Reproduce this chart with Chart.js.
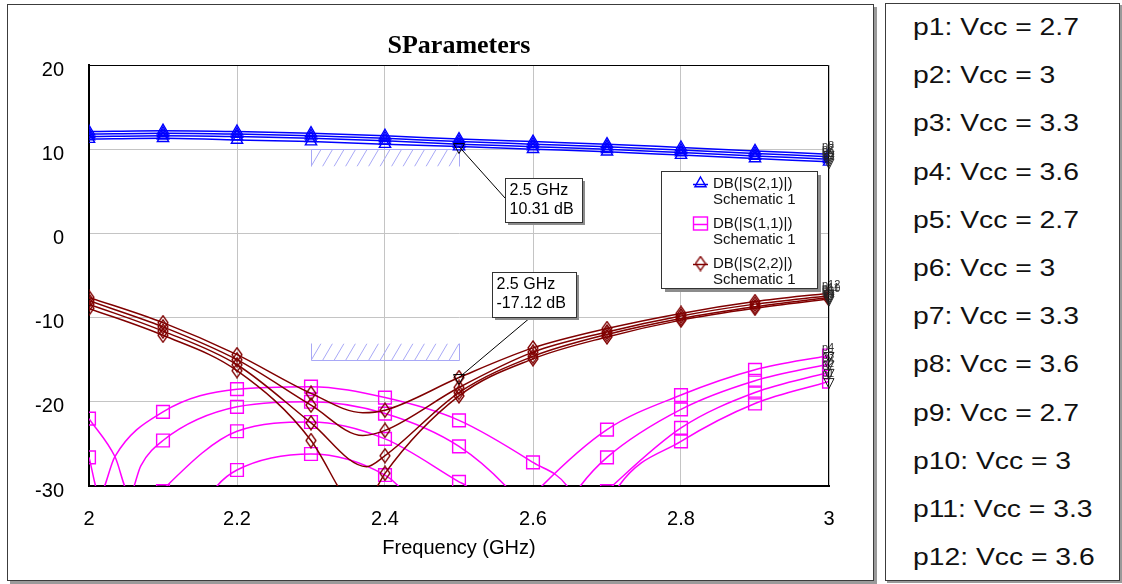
<!DOCTYPE html>
<html>
<head>
<meta charset="utf-8">
<title>SParameters</title>
<script src="https://cdn.jsdelivr.net/npm/chart.js@4.4.1/dist/chart.umd.min.js"></script>
<style>
body { margin: 0; width: 1122px; height: 584px; overflow: hidden; background: #fff; font-family: "Liberation Sans", Arial, sans-serif; }
#plot-frame { position: absolute; left: 7px; top: 4px; width: 865px; height: 575px; border: 1px solid #3c3c3c; box-shadow: 3px 3px 0 #9a9a9a; }
#vcc-frame { position: absolute; left: 885px; top: 3px; width: 233px; height: 576px; border: 1px solid #3c3c3c; box-shadow: 2px 2px 0 #9a9a9a; }
.vcc { position: absolute; left: 27px; height: 28px; line-height: 28px; font-size: 23px; white-space: nowrap; transform: scaleX(1.23); transform-origin: 0 50%; color: #111; }
#chart { position: absolute; left: 0; top: 0; }
</style>
</head>
<body>
<div id="plot-frame"></div>
<div id="vcc-frame"></div>
<canvas id="chart" width="1122" height="584"></canvas>
<script>
// frequencies where the simulator puts a marker symbol (GHz)
const markFreq = [2.0, 2.1, 2.2, 2.3, 2.4, 2.5, 2.6, 2.7, 2.8, 2.9, 3.0];

// DB(|S(2,1)|) at markFreq, traces p5..p8
const s21Db = [
   [11.2, 11.3, 11.1, 10.9, 10.6, 10.31, 10.0, 9.7, 9.3, 8.9, 8.5],
   [11.5, 11.6, 11.5, 11.3, 11.0, 10.6, 10.3, 10.0, 9.6, 9.2, 8.8],
   [11.8, 11.9, 11.8, 11.6, 11.3, 10.9, 10.6, 10.3, 9.9, 9.5, 9.1],
   [12.1, 12.2, 12.1, 11.9, 11.6, 11.2, 10.9, 10.6, 10.2, 9.8, 9.4]
];

// DB(|S(1,1)|) at markFreq, traces p1..p4 (values under -30 are off the plot)
const s11Db = [
   [-26.6, -21.2, -18.5, -18.2, -19.5, -22.2, -27.2, -33.0, -24.7, -20.2, -17.6],
   [-22.0, -24.6, -20.6, -20.0, -21.4, -25.3, -34.0, -30.6, -23.1, -18.9, -16.5],
   [-33.0, -30.6, -23.5, -22.4, -24.4, -29.5, -39.0, -26.6, -20.9, -17.5, -15.5],
   [-34.0, -40.0, -28.1, -26.2, -28.7, -40.0, -31.2, -23.3, -19.2, -16.2, -14.5]
];
// extra unmarked samples near the nulls [GHz, dB]
const s11Extra = [
   [[2.014, -31], [2.035, -26.5], [2.646, -30], [2.68, -36], [2.716, -30]],
   [[2.035, -26.5], [2.055, -31], [2.07, -27.6], [2.563, -30], [2.635, -38], [2.707, -30]],
   [[2.09, -37], [2.105, -30], [2.51, -30], [2.59, -40], [2.664, -30]],
   [[2.173, -30], [2.418, -30], [2.612, -30]]
];

// DB(|S(2,2)|) at markFreq, traces p9..p12
const s22Db = [
   [-8.9, -12.1, -16.3, -24.6, -28.5, -19.3, -14.9, -12.3, -10.3, -8.9, -7.8],
   [-8.4, -11.6, -15.6, -22.5, -26.4, -18.9, -14.6, -12.0, -10.1, -8.7, -7.6],
   [-8.0, -11.1, -15.0, -20.4, -23.4, -18.3, -14.1, -11.7, -9.8, -8.4, -7.4],
   [-7.6, -10.6, -14.4, -19.0, -21.0, -17.12, -13.6, -11.3, -9.5, -8.1, -7.1]
];
const s22Extra = [
   [[2.336, -30], [2.362, -34], [2.39, -30]],
   [[2.375, -27.7]],
   [[2.37, -24.0]],
   [[2.37, -21.3]]
];

const legendNames = ["DB(|S(2,1)|)", "DB(|S(1,1)|)", "DB(|S(2,2)|)"];
const vccLabels = [
   "p1: Vcc = 2.7", "p2: Vcc = 3", "p3: Vcc = 3.3", "p4: Vcc = 3.6",
   "p5: Vcc = 2.7", "p6: Vcc = 3", "p7: Vcc = 3.3", "p8: Vcc = 3.6",
   "p9: Vcc = 2.7", "p10: Vcc = 3", "p11: Vcc = 3.3", "p12: Vcc = 3.6"
];

const BLUE = "#0000ff";
const MAGENTA = "#ff00ff";
const BROWN = "#800000";

// right hand panel with the sweep values
let vccFrame = document.getElementById("vcc-frame");
vccLabels.forEach((txt, i) => {
   let d = document.createElement("div");
   d.className = "vcc";
   d.textContent = txt;
   d.style.top = (9 + 48.2 * i) + "px";
   vccFrame.appendChild(d);
});

function diamondImage(color) {
   const c = document.createElement("canvas");
   c.width = 12;
   c.height = 16;
   const g = c.getContext("2d");
   g.strokeStyle = color;
   g.lineWidth = 1.3;
   g.beginPath();
   g.moveTo(6, 1);
   g.lineTo(11, 8);
   g.lineTo(6, 15);
   g.lineTo(1, 8);
   g.closePath();
   g.stroke();
   return c;
}
const diamond = diamondImage(BROWN);

function buildPoints(vals, extra) {
   let pts = markFreq.map((f, i) => ({ x: f, y: vals[i], mark: true }));
   (extra || []).forEach(p => pts.push({ x: p[0], y: p[1], mark: false }));
   return pts.sort((a, b) => a.x - b.x);
}

function makeSet(label, vals, extra, color, style, radius) {
   return {
      label: label,
      data: buildPoints(vals, extra),
      borderColor: color,
      borderWidth: 1.5,
      pointStyle: style,
      pointBorderColor: color,
      pointBackgroundColor: "rgba(0,0,0,0)",
      pointBorderWidth: 1.4,
      pointRadius: ctx => (ctx.raw && ctx.raw.mark ? radius : 0),
      pointHoverRadius: 0,
      cubicInterpolationMode: "monotone",
      clip: 0
   };
}

// dataset 0 is drawn last, so S(2,2) sits on top like in the original
let datasets = [];
s22Db.forEach((v, i) => datasets.push(makeSet("p" + (9 + i), v, s22Extra[i], BROWN, diamond, 6)));
s11Db.forEach((v, i) => datasets.push(makeSet("p" + (1 + i), v, s11Extra[i], MAGENTA, "rect", 9)));
s21Db.forEach((v, i) => datasets.push(makeSet("p" + (5 + i), v, null, BLUE, "triangle", 6.5)));

function downTriangle(ctx, cx, cy, w, h) {
   ctx.beginPath();
   ctx.moveTo(cx - w / 2, cy - h / 2);
   ctx.lineTo(cx + w / 2, cy - h / 2);
   ctx.lineTo(cx, cy + h / 2);
   ctx.closePath();
   ctx.stroke();
}

function drawMarker(ctx, kind, color, x, y) {
   ctx.save();
   ctx.strokeStyle = color;
   ctx.lineWidth = 1.4;
   if (kind === "triangle") {
      ctx.beginPath();
      ctx.moveTo(x, y - 6.5);
      ctx.lineTo(x + 5.6, y + 3.3);
      ctx.lineTo(x - 5.6, y + 3.3);
      ctx.closePath();
      ctx.stroke();
   } else if (kind === "rect") {
      ctx.strokeRect(x - 7, y - 6.5, 14, 13);
   } else {
      ctx.drawImage(diamond, x - 6, y - 8);
   }
   ctx.restore();
}

function hatchBox(ctx, xs, ys, f1, f2, lineDb, edgeDb) {
   const x1 = Math.round(xs.getPixelForValue(f1)) + 0.5;
   const x2 = Math.round(xs.getPixelForValue(f2)) + 0.5;
   const yl = Math.round(ys.getPixelForValue(lineDb)) + 0.5;
   const ye = Math.round(ys.getPixelForValue(edgeDb)) + 0.5;
   const top = Math.min(yl, ye), bot = Math.max(yl, ye);
   ctx.save();
   ctx.strokeStyle = "#a8a8f6";
   ctx.lineWidth = 1;
   ctx.beginPath();
   ctx.rect(x1, top, x2 - x1, bot - top);
   ctx.clip();
   ctx.beginPath();
   for (let hx = x1 - 12; hx < x2 + 12; hx += 11.5) {
      ctx.moveTo(hx, bot);
      ctx.lineTo(hx + 10, top);
   }
   ctx.stroke();
   ctx.restore();
   ctx.save();
   ctx.strokeStyle = "#a8a8f6";
   ctx.lineWidth = 1;
   ctx.beginPath();
   ctx.moveTo(x1, ye);
   ctx.lineTo(x1, yl);
   ctx.lineTo(x2, yl);
   ctx.lineTo(x2, ye);
   ctx.stroke();
   ctx.restore();
}

const markerNotes = [
   { freq: 2.5, db: 10.31, text: ["2.5 GHz", "10.31 dB"], box: [505, 178, 77, 44], anchor: [505, 198] },
   { freq: 2.5, db: -17.12, text: ["2.5 GHz", "-17.12 dB"], box: [492, 272, 84, 45], anchor: [531, 317] }
];

const decorations = {
   id: "decorations",
   beforeDatasetsDraw(chart) {
      const ctx = chart.ctx;
      const xs = chart.scales.x, ys = chart.scales.y;
      hatchBox(ctx, xs, ys, 2.3, 2.5, 10, 8);
      hatchBox(ctx, xs, ys, 2.3, 2.5, -15, -13);
   },
   afterDatasetsDraw(chart) {
      const ctx = chart.ctx;
      const xs = chart.scales.x, ys = chart.scales.y;
      const a = chart.chartArea;

      // top and right edge of the plot box
      ctx.save();
      ctx.strokeStyle = "#000";
      ctx.lineWidth = 1;
      ctx.beginPath();
      ctx.moveTo(a.left, a.top + 0.5);
      ctx.lineTo(a.right - 0.5, a.top + 0.5);
      ctx.lineTo(a.right - 0.5, a.bottom);
      ctx.stroke();
      ctx.restore();

      // trace ends: little markers with the sweep name
      ctx.save();
      ctx.strokeStyle = "#222";
      ctx.fillStyle = "#333";
      ctx.lineWidth = 1;
      ctx.font = '11px "Liberation Sans"';
      ctx.textBaseline = "middle";
      chart.data.datasets.forEach((ds, i) => {
         const meta = chart.getDatasetMeta(i);
         const pt = meta.data[meta.data.length - 1];
         downTriangle(ctx, pt.x, pt.y + 2, 10, 10);
         ctx.fillText(ds.label, pt.x - 7, pt.y - 8);
      });
      ctx.restore();

      // marker read-outs
      markerNotes.forEach(n => {
         const px = xs.getPixelForValue(n.freq), py = ys.getPixelForValue(n.db);
         const [bx, by, bw, bh] = n.box;
         ctx.save();
         ctx.strokeStyle = "#000";
         ctx.lineWidth = 1;
         ctx.beginPath();
         ctx.moveTo(px, py);
         ctx.lineTo(n.anchor[0], n.anchor[1]);
         ctx.stroke();
         downTriangle(ctx, px, py + 2, 11, 10);
         ctx.fillStyle = "#8c8c8c";
         ctx.fillRect(bx + 3, by + 3, bw, bh);
         ctx.fillStyle = "#fff";
         ctx.fillRect(bx, by, bw, bh);
         ctx.strokeStyle = "#333";
         ctx.strokeRect(bx + 0.5, by + 0.5, bw, bh);
         ctx.fillStyle = "#000";
         ctx.font = '16px "Liberation Sans"';
         ctx.textBaseline = "middle";
         ctx.fillText(n.text[0], bx + 4.5, by + 13);
         ctx.fillText(n.text[1], bx + 4.5, by + 31.5);
         ctx.restore();
      });

      // legend box
      const lx = 661, ly = 171, lw = 156, lh = 117;
      ctx.save();
      ctx.fillStyle = "#8c8c8c";
      ctx.fillRect(lx + 4, ly + 4, lw, lh);
      ctx.fillStyle = "#fff";
      ctx.fillRect(lx, ly, lw, lh);
      ctx.strokeStyle = "#333";
      ctx.lineWidth = 1;
      ctx.strokeRect(lx + 0.5, ly + 0.5, lw, lh);
      const kinds = ["triangle", "rect", "diamond"];
      const colors = [BLUE, MAGENTA, BROWN];
      legendNames.forEach((name, i) => {
         const cy = ly + 12.5 + 40 * i;
         ctx.strokeStyle = colors[i];
         ctx.lineWidth = 1.5;
         ctx.beginPath();
         ctx.moveTo(693, cy + 1);
         ctx.lineTo(708, cy + 1);
         ctx.stroke();
         drawMarker(ctx, kinds[i], colors[i], 700.5, cy);
         ctx.fillStyle = "#111";
         ctx.font = '15px "Liberation Sans"';
         ctx.textBaseline = "middle";
         ctx.fillText(name, 713, cy);
         ctx.fillText("Schematic 1", 713, cy + 16);
      });
      ctx.restore();
   },
   afterDraw(chart) {
      const ctx = chart.ctx;
      const a = chart.chartArea;
      const cx = (a.left + a.right) / 2;
      ctx.save();
      ctx.fillStyle = "#000";
      ctx.textAlign = "center";
      ctx.textBaseline = "alphabetic";
      ctx.font = 'bold 26px "Liberation Serif"';
      ctx.fillText("SParameters", cx, 52.5);
      ctx.font = '20px "Liberation Sans"';
      ctx.fillText("Frequency (GHz)", cx, 554);
      ctx.restore();
   }
};

new Chart(document.getElementById("chart"), {
   type: "line",
   data: { datasets: datasets },
   options: {
      responsive: false,
      animation: false,
      events: [],
      layout: { padding: { left: 0, right: 293, top: 65, bottom: 0 } },
      scales: {
         x: {
            type: "linear",
            min: 2,
            max: 3,
            afterFit: scale => { scale.height = 98; },
            grid: { color: "#c4c4c4", lineWidth: 1, drawTicks: false },
            border: { display: true, color: "#000", width: 2 },
            ticks: {
               stepSize: 0.2,
               padding: 21,
               color: "#000",
               font: { size: 20 },
               callback: v => String(Math.round(v * 10) / 10)
            }
         },
         y: {
            min: -30,
            max: 20,
            afterFit: scale => { scale.width = 89; },
            grid: { color: "#c4c4c4", lineWidth: 1, drawTicks: false },
            border: { display: true, color: "#000", width: 2 },
            ticks: {
               stepSize: 10,
               padding: 25,
               labelOffset: 5,
               color: "#000",
               font: { size: 20 }
            }
         }
      },
      plugins: {
         legend: { display: false },
         tooltip: { enabled: false }
      }
   },
   plugins: [decorations]
});
</script>
</body>
</html>
